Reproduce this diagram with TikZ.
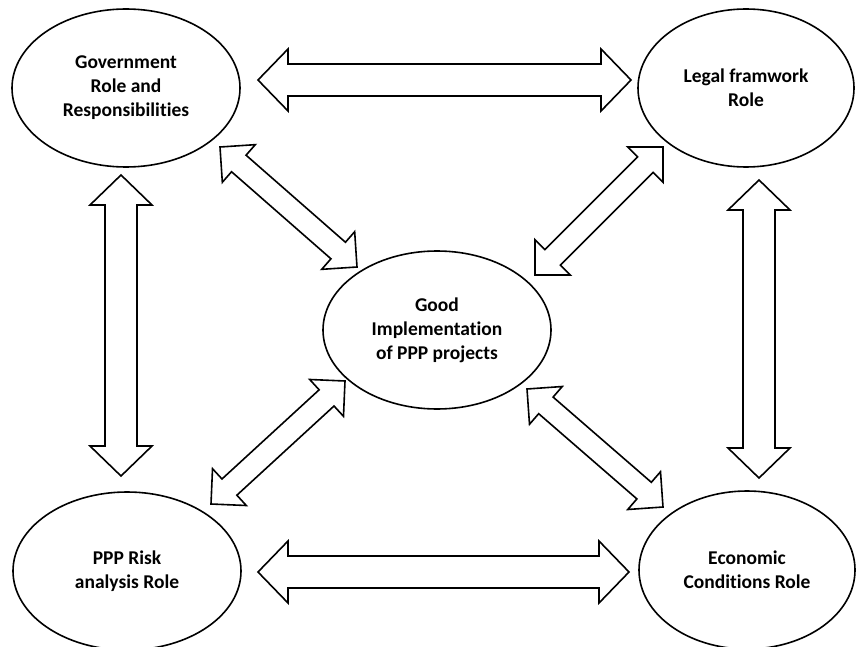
\documentclass[tikz,border=0pt]{standalone}
\usepackage{fontspec}
\setmainfont{Carlito}[Ligatures=NoCommon]
\usepackage{tikz}
\usetikzlibrary{calc,shapes.geometric}

% hollow two-headed block arrow: #1 tip, #2 tip, #3 shaft half, #4 head half, #5 head length
\newcommand{\twowayarrow}[5]{%
  \draw[blockarrow] (#1)
    -- ($(#1)!#5!(#2)!#4!90:(#2)$) -- ($(#1)!#5!(#2)!#3!90:(#2)$)
    -- ($(#2)!#5!(#1)!#3!-90:(#1)$) -- ($(#2)!#5!(#1)!#4!-90:(#1)$)
    -- (#2)
    -- ($(#2)!#5!(#1)!#4!90:(#1)$) -- ($(#2)!#5!(#1)!#3!90:(#1)$)
    -- ($(#1)!#5!(#2)!#3!-90:(#2)$) -- ($(#1)!#5!(#2)!#4!-90:(#2)$)
    -- cycle;
}

\begin{document}
\begin{tikzpicture}[
  x=1pt,y=-1pt,
  every node/.style={font=\fontsize{19.5}{24}\selectfont\bfseries},
  role/.style={draw,ellipse,line width=1.6pt,align=center,inner sep=0pt,
               minimum width=228pt,minimum height=158pt},
  blockarrow/.style={draw,line width=1.6pt,fill=white,line join=miter},
]
\useasboundingbox (0,0) rectangle (856,647);

\node[role] (gov) at (126,88) {Government\\Role and\\Responsibilities};
\node[role,minimum width=216pt] (legal) at (746,88) {Legal framwork\\Role};
\node[role] (good) at (437,330) {Good\\Implementation\\of PPP projects};
\node[role] (risk) at (127,571) {PPP Risk\\analysis Role};
\node[role,minimum width=216pt] (econ) at (747,570) {Economic\\Conditions Role};

% arrow tips
\coordinate (gl1) at (258,80);  \coordinate (gl2) at (631,80);
\coordinate (re1) at (258,572); \coordinate (re2) at (629,572);
\coordinate (gr1) at (121,175); \coordinate (gr2) at (121,476);
\coordinate (le1) at (759,180); \coordinate (le2) at (759,478);
\coordinate (gg1) at (220,147); \coordinate (gg2) at (357,267);
\coordinate (lg1) at (663,147); \coordinate (lg2) at (535,275);
\coordinate (rg1) at (211,504); \coordinate (rg2) at (345,381);
\coordinate (eg1) at (663,507); \coordinate (eg2) at (527,389);

\twowayarrow{gl1}{gl2}{16pt}{31pt}{30pt}
\twowayarrow{re1}{re2}{16pt}{31pt}{30pt}
\twowayarrow{gr1}{gr2}{16pt}{31pt}{30pt}
\twowayarrow{le1}{le2}{16pt}{31pt}{30pt}
\twowayarrow{gg1}{gg2}{11pt}{25pt}{25pt}
\twowayarrow{lg1}{lg2}{11pt}{25pt}{25pt}
\twowayarrow{rg1}{rg2}{11pt}{25pt}{25pt}
\twowayarrow{eg1}{eg2}{11pt}{25pt}{25pt}
\end{tikzpicture}
\end{document}
